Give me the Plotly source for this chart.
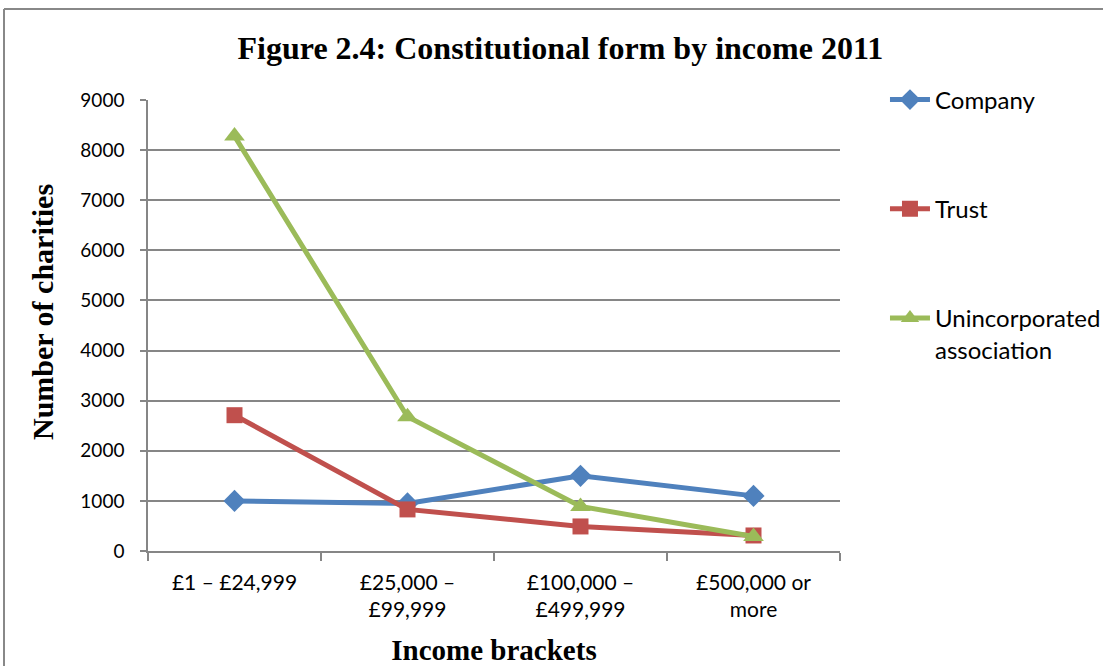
import plotly.graph_objects as go

categories = ["£1 – £24,999", "£25,000 –<br>£99,999", "£100,000 –<br>£499,999", "£500,000 or<br>more"]
company = [1000, 950, 1500, 1100]
trust = [2710, 830, 490, 310]
unincorporated = [8280, 2680, 890, 290]

series = [
    ("Company", company, "#4F81BD", "diamond", 17),
    ("Trust", trust, "#C0504D", "square", 16),
    ("Unincorporated<br>association", unincorporated, "#9BBB59", "triangle-up", 18),
]

fig = go.Figure()
for i, (name, vals, color, sym, size) in enumerate(series):
    fig.add_trace(go.Scatter(
        x=categories, y=vals, name=name, mode="lines+markers",
        legendgroup=f"g{i}",
        line=dict(color=color, width=5),
        marker=dict(symbol=sym, size=size, color=color),
    ))

fig.update_layout(
    width=1103, height=666,
    margin=dict(l=148, r=263, t=100, b=115, autoexpand=False),
    paper_bgcolor="white", plot_bgcolor="white",
    title=dict(text="<b>Figure 2.4: Constitutional form by income 2011</b>",
               font=dict(family="Liberation Serif", size=32, color="black"),
               x=0.508, xanchor="center", y=0.928, yanchor="middle"),
    legend=dict(x=1.065, y=1.05, xanchor="left", yanchor="top", valign="top",
                font=dict(family="Lato", size=24, color="black"),
                tracegroupgap=75, itemwidth=40, bgcolor="rgba(0,0,0,0)"),
    font=dict(family="Lato", color="black"),
    showlegend=True,
)
fig.update_xaxes(
    type="category", range=[-0.5, 3.5], tickson="boundaries", ticks="outside", ticklen=8,
    tickcolor="#868686", tickwidth=1.5,
    showline=True, linecolor="#868686", linewidth=1.5,
    showgrid=False, automargin=False,
    ticklabelstandoff=12,
    tickfont=dict(family="Lato", size=21, color="black"),
    title=dict(text="<b>Income brackets</b>", font=dict(family="Liberation Serif", size=29, color="black"), standoff=22),
)
fig.update_yaxes(
    range=[0, 9000], dtick=1000, ticks="outside", ticklen=6,
    tickcolor="#868686", tickwidth=1.5,
    showline=True, linecolor="#868686", linewidth=1.5,
    showgrid=True, gridcolor="#868686", gridwidth=1.5,
    zeroline=False, automargin=False,
    ticklabelstandoff=12,
    tickfont=dict(family="Lato", size=19, color="black"),
)

fig.add_annotation(text="<b>Number of charities</b>", textangle=-90,
                   xref="paper", yref="paper", x=(42 - 148) / 692, y=(551 - 312) / 451,
                   xanchor="center", yanchor="middle", showarrow=False,
                   font=dict(family="Liberation Serif", size=30, color="black"))

# outer chart frame (top and left edges visible)
bx0 = (4 - 148) / 692
bx1 = (1103 - 148) / 692
by0 = -(666 - 551) / 451
by1 = (551 - 9) / 451
fig.add_shape(type="line", xref="paper", yref="paper", x0=bx0, x1=bx1, y0=by1, y1=by1,
              line=dict(color="#888888", width=2), layer="below")
fig.add_shape(type="line", xref="paper", yref="paper", x0=bx0, x1=bx0, y0=by0, y1=by1,
              line=dict(color="#888888", width=2), layer="below")

fig.write_html("out.html", config={"displayModeBar": False},
               post_script="document.body.style.margin='0';document.body.style.overflow='hidden';document.documentElement.style.overflow='hidden';")
